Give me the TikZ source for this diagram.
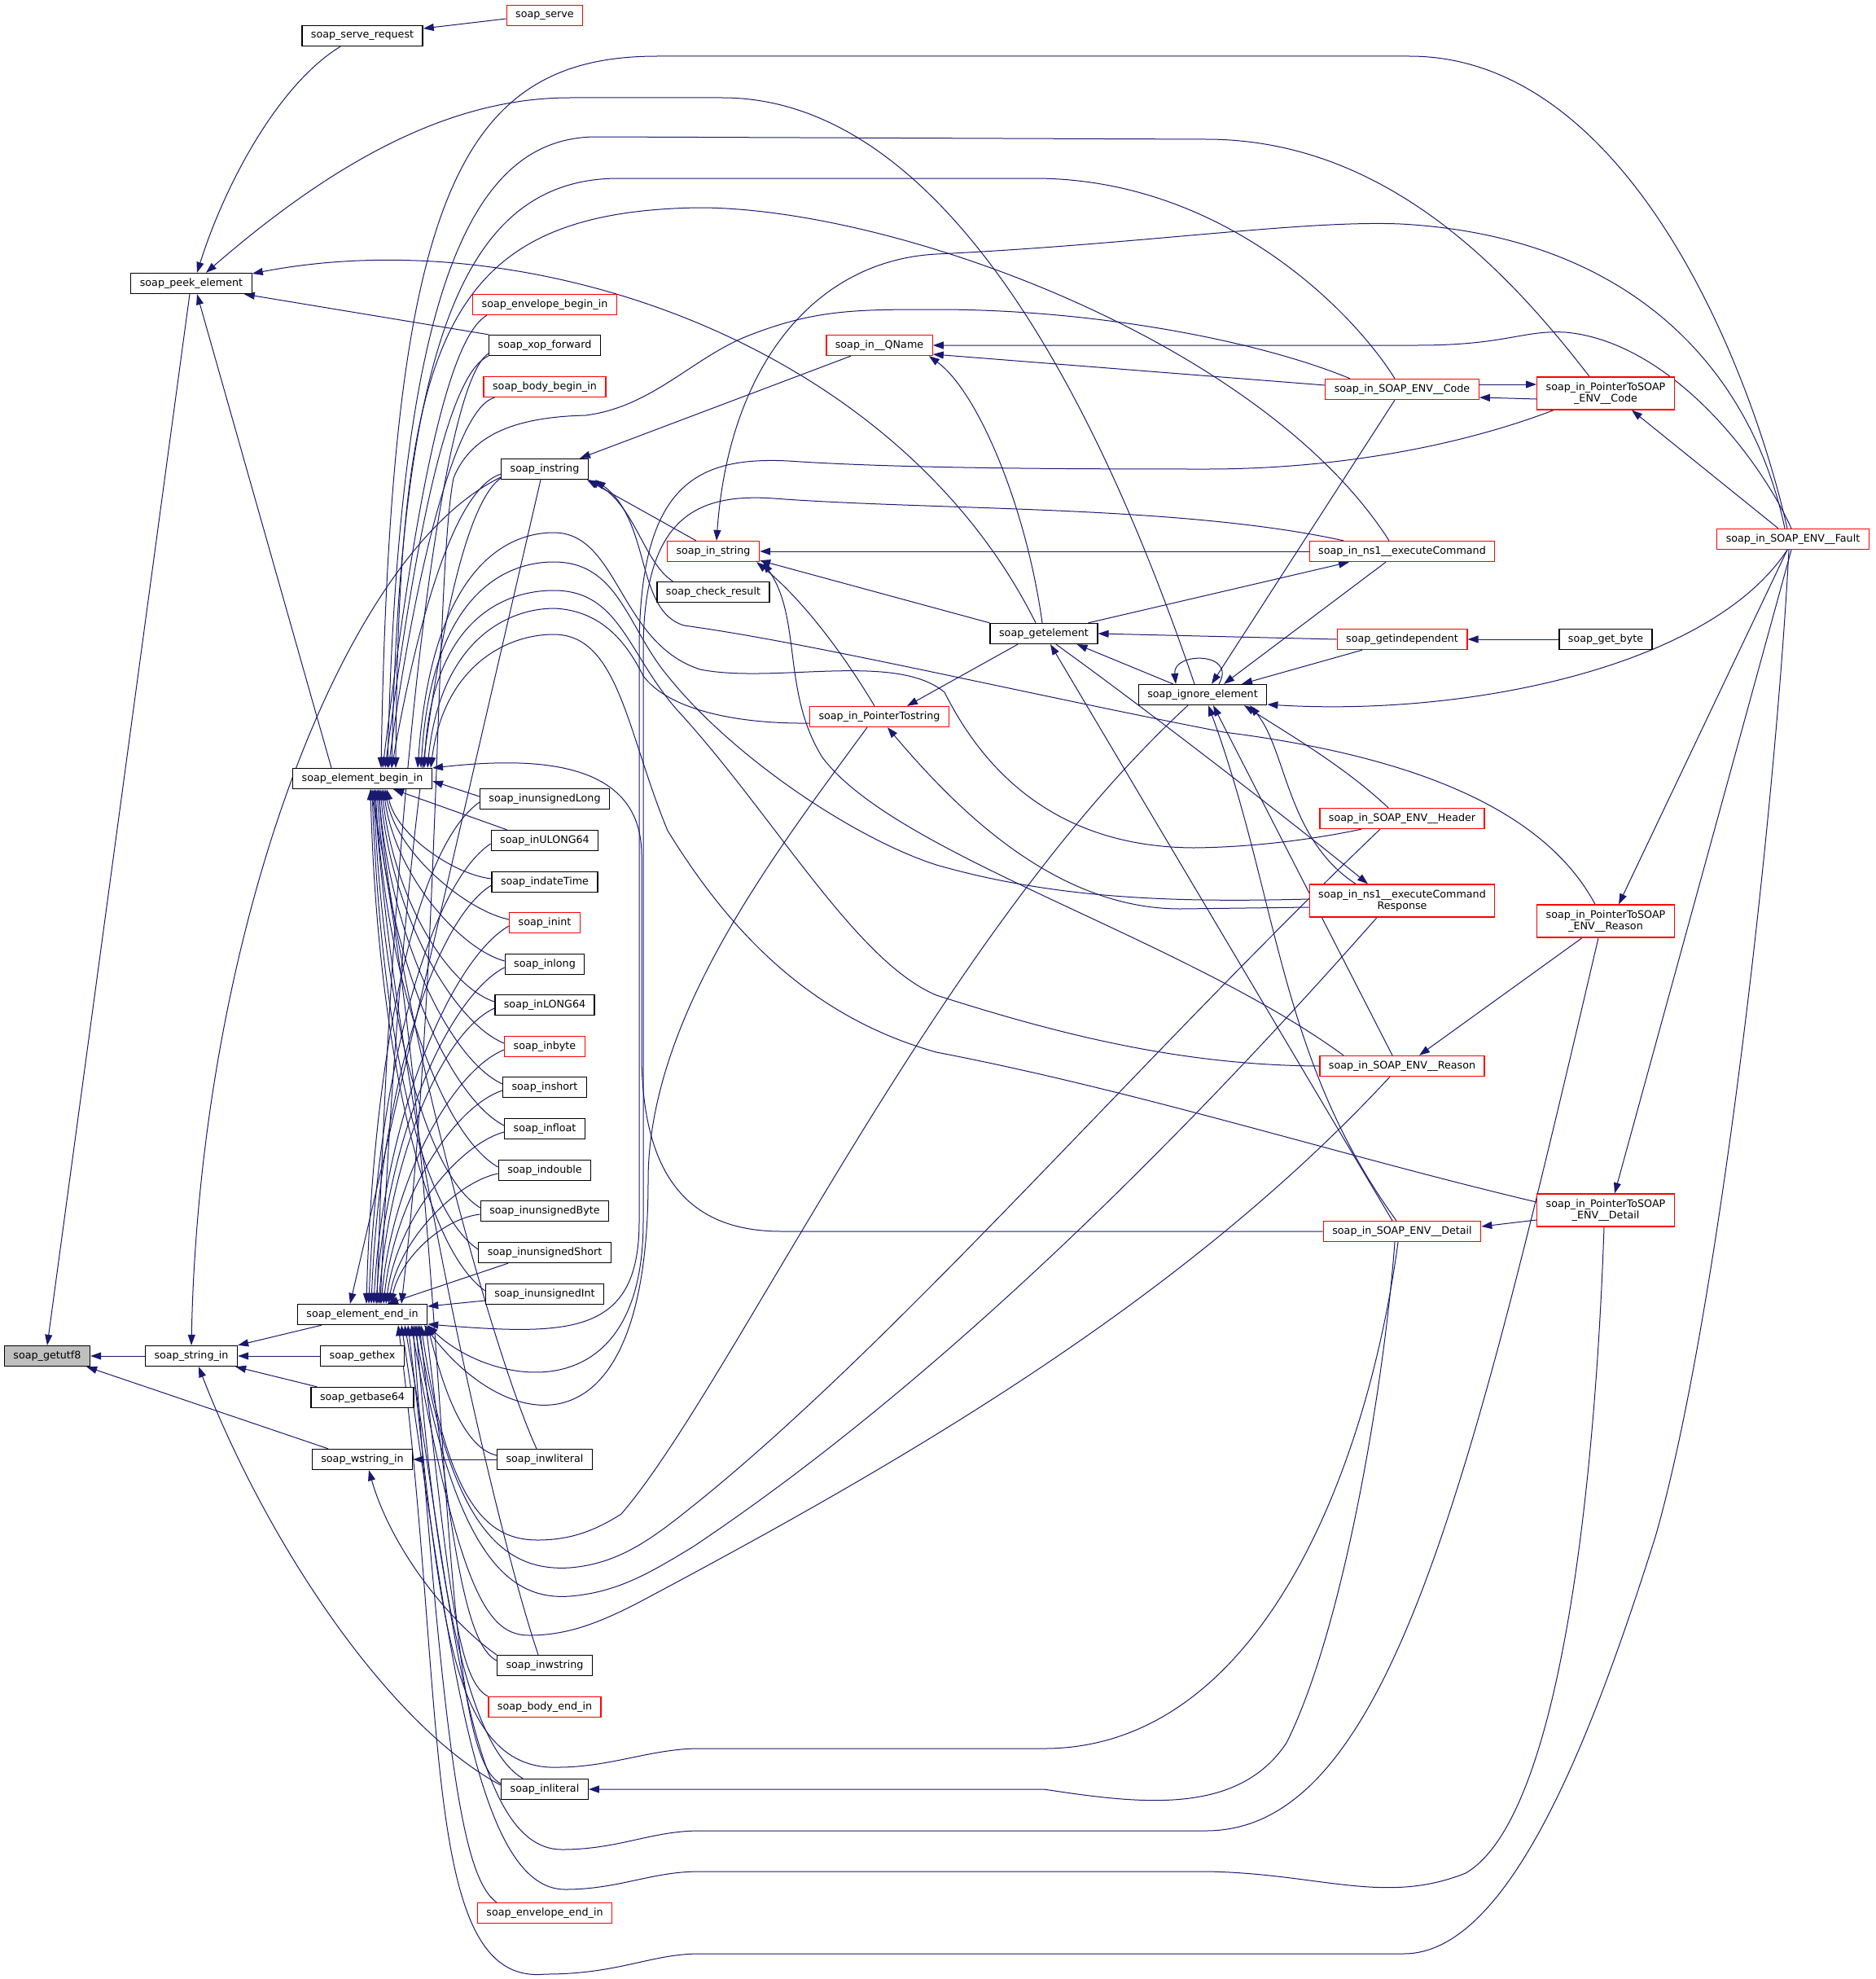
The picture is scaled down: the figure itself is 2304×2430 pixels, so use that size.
\documentclass[tikz,border=0pt]{standalone}
\usepackage{fontspec}
\setsansfont{DejaVu Sans}
\usetikzlibrary{arrows.meta,backgrounds}
\definecolor{edgecol}{HTML}{191970}
\definecolor{curfill}{HTML}{BFBFBF}
\tikzset{
  fn/.style={draw=black,line width=1.3pt,fill=white,inner xsep=11pt,inner ysep=3pt,
    minimum height=25pt,font=\sffamily\fontsize{12.7}{13.5}\selectfont},
  fnred/.style={fn,draw=red},
  fncur/.style={fn,fill=curfill},
  two/.style={align=center,minimum height=40pt},
  call/.style={draw=edgecol,line width=1pt,{Triangle[length=13pt,width=9pt]}-}
}
\begin{document}
\begin{tikzpicture}[x=1pt,y=-1pt]
\useasboundingbox (0,0) rectangle (2304,2430);
\node[fncur] (utf8) at (58,1665) {soap\_getutf8};
\node[fn] (strin) at (235,1665) {soap\_string\_in};
\node[fn] (peek) at (235,348) {soap\_peek\_element};
\node[fn] (sreq) at (445,44) {soap\_serve\_request};
\node[fnred] (serve) at (669,19) {soap\_serve};
\node[fn] (ebegin) at (445,956) {soap\_element\_begin\_in};
\node[fn] (eend) at (445,1614) {soap\_element\_end\_in};
\node[fn] (hex) at (445,1665) {soap\_gethex};
\node[fn] (b64) at (445,1716) {soap\_getbase64};
\node[fn] (wstrin) at (445,1792) {soap\_wstring\_in};
\node[fnred] (envb) at (669,374) {soap\_envelope\_begin\_in};
\node[fn] (xop) at (669,424) {soap\_xop\_forward};
\node[fnred] (bodyb) at (669,475) {soap\_body\_begin\_in};
\node[fn] (instr) at (669,576) {soap\_instring};
\node[fn] (ulong) at (669,981) {soap\_inunsignedLong};
\node[fn] (ul64) at (669,1032) {soap\_inULONG64};
\node[fn] (dtime) at (669,1083) {soap\_indateTime};
\node[fnred] (iint) at (669,1133) {soap\_inint};
\node[fn] (ilong) at (669,1184) {soap\_inlong};
\node[fn] (il64) at (669,1234) {soap\_inLONG64};
\node[fnred] (ibyte) at (669,1285) {soap\_inbyte};
\node[fn] (ishort) at (669,1335) {soap\_inshort};
\node[fn] (ifloat) at (669,1386) {soap\_infloat};
\node[fn] (idouble) at (669,1437) {soap\_indouble};
\node[fn] (ubyte) at (669,1487) {soap\_inunsignedByte};
\node[fn] (ushort) at (669,1538) {soap\_inunsignedShort};
\node[fn] (uint) at (669,1589) {soap\_inunsignedInt};
\node[fn] (iwlit) at (669,1792) {soap\_inwliteral};
\node[fn] (iwstr) at (669,2045) {soap\_inwstring};
\node[fnred] (bodye) at (669,2096) {soap\_body\_end\_in};
\node[fn] (ilit) at (669,2197) {soap\_inliteral};
\node[fnred] (enve) at (669,2349) {soap\_envelope\_end\_in};
\node[fnred] (qname) at (1080,424) {soap\_in\_\_QName};
\node[fnred] (sinstr) at (876,677) {soap\_in\_string};
\node[fn] (chk) at (876,727) {soap\_check\_result};
\node[fnred] (pstr) at (1080,880) {soap\_in\_PointerTostring};
\node[fn] (getel) at (1282,778) {soap\_getelement};
\node[fn] (ignore) at (1477,853) {soap\_ignore\_element};
\node[fnred] (code) at (1722,478) {soap\_in\_SOAP\_ENV\_\_Code};
\node[fnred,two] (pcode) at (1972,483) {soap\_in\_PointerToSOAP\\\_ENV\_\_Code};
\node[fnred] (fault) at (2202,662) {soap\_in\_SOAP\_ENV\_\_Fault};
\node[fnred] (exec) at (1722,677) {soap\_in\_ns1\_\_executeCommand};
\node[fnred] (getind) at (1722,785) {soap\_getindependent};
\node[fn] (getbyte) at (1972,785) {soap\_get\_byte};
\node[fnred] (header) at (1722,1005) {soap\_in\_SOAP\_ENV\_\_Header};
\node[fnred,two] (resp) at (1722,1106) {soap\_in\_ns1\_\_executeCommand\\Response};
\node[fnred] (reason) at (1722,1309) {soap\_in\_SOAP\_ENV\_\_Reason};
\node[fnred] (detail) at (1722,1512) {soap\_in\_SOAP\_ENV\_\_Detail};
\node[fnred,two] (preason) at (1972,1131) {soap\_in\_PointerToSOAP\\\_ENV\_\_Reason};
\node[fnred,two] (pdetail) at (1972,1486) {soap\_in\_PointerToSOAP\\\_ENV\_\_Detail};
\begin{scope}[on background layer]
\draw[call] (utf8.east) -- (strin.west);
\draw[call] (utf8.north) -- ([xshift=-2pt]peek.south);
\draw[call] ([xshift=-5pt]utf8.south east) -- ([xshift=-42pt]wstrin.north);
\draw[call] ([xshift=7pt]peek.north) .. controls (275,230) and (340,105) .. ([xshift=-27pt]sreq.south);
\draw[call] ([yshift=9pt]sreq.east) -- ([yshift=-4pt]serve.west);
\draw[call] ([xshift=7pt]peek.south) -- ([xshift=-38pt]ebegin.north);
\draw[call] ([xshift=-10pt]peek.south east) -- (xop.north west);
\draw[call] ([yshift=12pt]peek.east) .. controls (650,270) and (1100,420) .. ([xshift=-10pt]getel.north);
\draw[call] ([xshift=18pt]peek.north) .. controls (420,190) and (560,120) .. (700,120) -- (887,120)
  .. controls (1100,120) and (1300,350) .. ([xshift=-10pt]ignore.north);
\draw[call] (strin.north east) -- ([xshift=-50pt]eend.south);
\draw[call] (strin.east) -- (hex.west);
\draw[call] ([xshift=-3pt]strin.south east) -- ([xshift=8pt]b64.north west);
\draw[call] (strin.north) .. controls (245,1150) and (420,680) .. ([yshift=-10pt]instr.west);
\draw[call] ([xshift=9pt]strin.south) .. controls (330,1900) and (480,2120) .. ([yshift=5pt]ilit.west);
\draw[call] (wstrin.east) -- (iwlit.west);
\draw[call] ([xshift=8pt]wstrin.south) .. controls (480,1900) and (550,1990) .. (iwstr.north west);
\draw[call] ([xshift=25pt]ebegin.north) .. controls (500,700) and (540,420) .. ([xshift=18pt]envb.south west);
\draw[call] ([xshift=28pt]ebegin.north) .. controls (505,700) and (545,460) .. (xop.south west);
\draw[call] ([xshift=32pt]ebegin.north) .. controls (510,700) and (560,500) .. ([xshift=14pt]bodyb.south west);
\draw[call] ([xshift=36pt]ebegin.north) .. controls (515,750) and (560,600) .. ([yshift=-6pt]instr.west);
\draw[call] ([xshift=18pt]eend.north) .. controls (480,1000) and (540,470) .. ([yshift=-10pt]xop.west);
\draw[call] ([xshift=22pt]eend.north) .. controls (490,1100) and (540,640) .. ([yshift=-11pt]instr.west);
\draw[call] ([xshift=-15pt]eend.north) -- ([xshift=-5pt]instr.south);
\draw[call] ([yshift=-3pt]ebegin.east) -- ([yshift=3pt]ulong.west);
\draw[call] ([xshift=38pt]ebegin.south) -- ([xshift=20pt]ul64.north west);
\draw[call] ([xshift=30pt]ebegin.south) .. controls +(12,57) and +(-45,-5) .. ([yshift=4pt]dtime.west);
\draw[call] ([xshift=28pt]ebegin.south) .. controls +(14,80) and +(-50,-10) .. ([yshift=4pt]iint.west);
\draw[call] ([xshift=26pt]ebegin.south) .. controls +(14,105) and +(-55,-15) .. ([yshift=4pt]ilong.west);
\draw[call] ([xshift=24pt]ebegin.south) .. controls +(14,130) and +(-60,-20) .. ([yshift=4pt]il64.west);
\draw[call] ([xshift=22pt]ebegin.south) .. controls +(14,155) and +(-62,-25) .. ([yshift=4pt]ibyte.west);
\draw[call] ([xshift=20pt]ebegin.south) .. controls +(14,180) and +(-65,-30) .. ([yshift=4pt]ishort.west);
\draw[call] ([xshift=18pt]ebegin.south) .. controls +(12,205) and +(-68,-35) .. ([yshift=4pt]ifloat.west);
\draw[call] ([xshift=16pt]ebegin.south) .. controls +(12,230) and +(-70,-40) .. ([yshift=4pt]idouble.west);
\draw[call] ([xshift=14pt]ebegin.south) .. controls +(10,255) and +(-72,-45) .. ([yshift=4pt]ubyte.west);
\draw[call] ([xshift=12pt]ebegin.south) .. controls +(10,280) and +(-75,-50) .. ([yshift=4pt]ushort.west);
\draw[call] ([xshift=10pt]ebegin.south) .. controls +(8,305) and +(-78,-55) .. ([yshift=4pt]uint.west);
\draw[call] ([xshift=5pt]eend.north) .. controls +(8,-305) and +(-78,55) .. ([yshift=-4pt]ulong.west);
\draw[call] ([xshift=8pt]eend.north) .. controls +(10,-280) and +(-75,50) .. ([yshift=-4pt]ul64.west);
\draw[call] ([xshift=11pt]eend.north) .. controls +(10,-255) and +(-72,45) .. ([yshift=-4pt]dtime.west);
\draw[call] ([xshift=14pt]eend.north) .. controls +(12,-230) and +(-70,40) .. ([yshift=-4pt]iint.west);
\draw[call] ([xshift=17pt]eend.north) .. controls +(12,-205) and +(-68,35) .. ([yshift=-4pt]ilong.west);
\draw[call] ([xshift=20pt]eend.north) .. controls +(14,-180) and +(-65,30) .. ([yshift=-4pt]il64.west);
\draw[call] ([xshift=23pt]eend.north) .. controls +(14,-155) and +(-62,25) .. ([yshift=-4pt]ibyte.west);
\draw[call] ([xshift=26pt]eend.north) .. controls +(14,-130) and +(-60,20) .. ([yshift=-4pt]ishort.west);
\draw[call] ([xshift=29pt]eend.north) .. controls +(14,-105) and +(-55,15) .. ([yshift=-4pt]ifloat.west);
\draw[call] ([xshift=32pt]eend.north) .. controls +(14,-80) and +(-50,10) .. ([yshift=-4pt]idouble.west);
\draw[call] ([xshift=35pt]eend.north) .. controls +(12,-57) and +(-45,5) .. ([yshift=-4pt]ubyte.west);
\draw[call] ([xshift=31pt]eend.north) -- ([xshift=37pt]ushort.south west);
\draw[call] ([yshift=10pt]eend.east) -- ([yshift=-8pt]uint.west);
\draw[call] ([xshift=20pt]ebegin.south) .. controls (480,1200) and (600,1650) .. ([xshift=-10pt]iwlit.north);
\draw[call] ([xshift=80pt]eend.south) .. controls +(15,60) and +(-45,-10) .. ([yshift=5pt]iwlit.west);
\draw[call] ([xshift=15pt]ebegin.south) .. controls (480,1300) and (600,1850) .. ([xshift=-8pt]iwstr.north);
\draw[call] ([xshift=78pt]eend.south) .. controls +(30,250) and +(-40,-20) .. ([yshift=6pt]iwstr.west);
\draw[call] ([xshift=70pt]eend.south) .. controls +(35,300) and +(-40,-20) .. (bodye.north west);
\draw[call] ([xshift=66pt]eend.south) .. controls +(30,400) and +(-50,-30) .. ([xshift=27pt]ilit.north west);
\draw[call] ([xshift=10pt]ebegin.south) .. controls (560,1500) and (530,2150) .. ([yshift=7pt]ilit.west);
\draw[call] ([xshift=62pt]eend.south) .. controls +(40,550) and +(-40,-30) .. ([xshift=24pt]enve.north west);
\draw[call] ([xshift=23pt]ebegin.north) .. controls (480,250) and (560,69) .. (807,69) -- (1731,69)
  .. controls (2000,69) and (2150,450) .. ([xshift=-7pt]fault.north);
\draw[call] ([xshift=31pt]ebegin.north) .. controls (490,350) and (580,168) .. (733,168) -- (1481,171)
  .. controls (1700,171) and (1850,330) .. ([xshift=-20pt]pcode.north);
\draw[call] ([xshift=36pt]ebegin.north) .. controls (492,420) and (570,219) .. (760,219) -- (1270,219)
  .. controls (1500,219) and (1660,380) .. ([xshift=-9pt]code.north);
\draw[call] ([xshift=41pt]ebegin.north) .. controls (490,420) and (540,260) .. (858,255)
  .. controls (1100,255) and (1550,420) .. ([xshift=-16pt]exec.north);
\draw[call] ([xshift=48pt]eend.north) .. controls (540,1200) and (535,700) .. (557,587)
  .. controls (580,530) and (640,512) .. (719,510) .. controls (800,500) and (850,440) .. (917,413)
  .. controls (1000,380) and (1050,380) .. (1150,380) .. controls (1350,380) and (1550,420) .. ([xshift=-64pt]code.north);
\draw[call] ([yshift=-12pt]eend.east) .. controls (700,1640) and (785,1640) .. (785,1500) -- (785,800)
  .. controls (785,600) and (850,560) .. (968,566) .. controls (1100,575) and (1300,576) .. (1481,576)
  .. controls (1650,576) and (1800,545) .. ([xshift=-64pt]pcode.south);
\draw[call] ([xshift=80pt]eend.south) .. controls (600,1700) and (790,1740) .. (790,1500) -- (790,800)
  .. controls (790,640) and (850,605) .. (950,612) .. controls (1150,627) and (1450,620) .. ([xshift=-72pt]exec.north);
\draw[call] ([xshift=76pt]eend.south) .. controls (620,1760) and (796,1800) .. (796,1450)
  .. controls (796,1250) and (950,1050) .. ([xshift=-15pt]pstr.south);
\draw[call] ([yshift=13pt]ebegin.east) .. controls (650,930) and (788,930) .. (788,1050) -- (788,1300)
  .. controls (790,1450) and (850,1512) .. (960,1512) -- (detail.west);
\draw[call] ([xshift=-18pt]ebegin.north east) .. controls (530,700) and (620,654) .. (680,654)
  .. controls (760,654) and (760,790) .. (860,822) .. controls (950,840) and (1100,800) .. (1160,850)
  .. controls (1210,950) and (1300,1040) .. (1466,1041) .. controls (1560,1040) and (1640,1025) .. ([xshift=-50pt]header.south);
\draw[call] ([xshift=-14pt]ebegin.north east) .. controls (530,730) and (620,690) .. (680,690)
  .. controls (760,690) and (770,770) .. (820,830) .. controls (900,930) and (1050,1030) .. (1150,1062)
  .. controls (1300,1105) and (1450,1108) .. ([yshift=2pt]resp.west);
\draw[call] ([xshift=-10pt]ebegin.north east) .. controls (530,760) and (620,725) .. (680,725)
  .. controls (760,725) and (770,800) .. (830,870) .. controls (950,1000) and (1050,1180) .. (1150,1222)
  .. controls (1300,1270) and (1450,1308) .. (reason.west);
\draw[call] ([xshift=-6pt]ebegin.north east) .. controls (540,790) and (620,747) .. (681,747)
  .. controls (740,750) and (770,790) .. (790,830) .. controls (820,870) and (900,889) .. ([yshift=-8pt]pstr.west);
\draw[call] ([xshift=-2pt]ebegin.north east) .. controls (545,820) and (620,779) .. (680,779)
  .. controls (760,779) and (770,900) .. (820,1020) .. controls (900,1150) and (1000,1250) .. (1150,1292)
  .. controls (1400,1340) and (1650,1420) .. ([yshift=10pt]pdetail.west);
\draw[call] ([xshift=72pt]eend.south) .. controls (550,1850) and (600,1891) .. (660,1891)
  .. controls (700,1891) and (730,1880) .. (763,1859) .. controls (900,1700) and (1150,1150) .. ([xshift=-18pt]ignore.south);
\draw[call] ([xshift=68pt]eend.south) .. controls (555,1880) and (620,1930) .. (700,1925)
  .. controls (760,1920) and (800,1890) .. (850,1850) .. controls (1100,1650) and (1400,1300) .. ([xshift=-27pt]header.south);
\draw[call] ([xshift=64pt]eend.south) .. controls (560,1920) and (630,1965) .. (700,1960)
  .. controls (760,1955) and (800,1930) .. (850,1900) .. controls (1150,1700) and (1450,1400) .. ([xshift=-31pt]resp.south);
\draw[call] ([xshift=60pt]eend.south) .. controls (565,1960) and (600,2008) .. (650,2008)
  .. controls (700,2008) and (740,1990) .. (780,1970) .. controls (1100,1800) and (1450,1600) .. ([xshift=-15pt]reason.south);
\draw[call] ([xshift=56pt]eend.south) .. controls (540,1950) and (545,2175) .. (685,2170)
  .. controls (750,2170) and (800,2147) .. (859,2147) -- (1282,2147)
  .. controls (1550,2147) and (1680,1800) .. ([xshift=-5pt]detail.south);
\draw[call] ([xshift=52pt]eend.south) .. controls (555,1950) and (570,2271) .. (690,2271)
  .. controls (760,2271) and (800,2248) .. (859,2248) -- (1481,2248)
  .. controls (1700,2248) and (1800,1850) .. ([xshift=-9pt]preason.south);
\draw[call] ([xshift=48pt]eend.south) .. controls (550,2000) and (580,2320) .. (694,2320)
  .. controls (760,2320) and (800,2298) .. (859,2298) -- (1481,2298)
  .. controls (1620,2300) and (1700,2340) .. (1800,2300) .. controls (1920,2230) and (1960,1800) .. ([xshift=-2pt]pdetail.south);
\draw[call] ([xshift=44pt]eend.south) .. controls (550,2100) and (515,2440) .. (670,2424)
  .. controls (760,2424) and (800,2399) .. (859,2399) -- (1724,2399)
  .. controls (1850,2399) and (1950,2150) .. (2033,1887) .. controls (2110,1620) and (2180,1000) .. ([xshift=-5pt]fault.south);
\draw[call] (ilit.east) -- (1282,2197) .. controls (1400,2215) and (1520,2230) .. (1580,2140)
  .. controls (1650,2000) and (1700,1700) .. ([xshift=-9pt]detail.south);
\draw[call] ([yshift=-11pt]qname.east) -- ([yshift=5pt]code.west);
\draw[call] (qname.east) -- (1740,424) .. controls (1850,424) and (1870,405) .. (1923,408)
  .. controls (2050,420) and (2160,560) .. ([xshift=-2pt]fault.north);
\draw[call] ([xshift=-5pt]qname.south east) .. controls (1200,480) and (1260,620) .. ([xshift=-2pt]getel.north);
\draw[call] ([yshift=11pt]pcode.west) -- ([yshift=6pt]code.east);
\draw[call] ([yshift=-10pt]code.east) -- ([yshift=-7pt]pcode.west);
\draw[call] ([xshift=32pt]pcode.south) -- ([xshift=-18pt]fault.north);
\draw[call] ([xshift=43pt]instr.north) -- ([xshift=-35pt]qname.south);
\draw[call] ([xshift=-2pt]instr.south east) -- ([xshift=36pt]sinstr.north west);
\draw[call] (instr.south east) .. controls (780,620) and (790,690) .. ([xshift=20pt]chk.north west);
\draw[call] ([xshift=8pt]instr.south east) .. controls (800,640) and (780,750) .. (840,768)
  .. controls (1000,790) and (1250,850) .. (1503,899) .. controls (1750,930) and (1900,1000) .. ([xshift=-13pt]preason.north);
\draw[call] ([xshift=4pt]sinstr.north) .. controls (895,450) and (1000,320) .. (1150,312)
  .. controls (1400,300) and (1600,270) .. (1720,275) .. controls (2000,290) and (2150,450) .. ([xshift=-10pt]fault.north);
\draw[call] (sinstr.east) -- (exec.west);
\draw[call] ([yshift=2pt]sinstr.south east) -- (getel.north west);
\draw[call] ([xshift=-4pt]sinstr.south east) .. controls (990,740) and (1040,810) .. ([xshift=-6pt]pstr.north);
\draw[call] ([xshift=4pt]sinstr.south east) .. controls (985,760) and (960,850) .. (1010,930)
  .. controls (1100,1050) and (1450,1150) .. ([xshift=-72pt]reason.north);
\draw[call] ([xshift=34pt]pstr.north) -- ([xshift=-32pt]getel.south);
\draw[call] ([xshift=10pt]pstr.south) .. controls (1180,1000) and (1300,1116) .. (1450,1116) -- ([yshift=-8pt]resp.west);
\draw[call] (getel.east) -- (getind.west);
\draw[call] (getind.east) -- (getbyte.west);
\draw[call] ([xshift=-26pt]getel.south east) -- ([xshift=43pt]ignore.north west);
\draw[call] ([xshift=-33pt]ignore.north) .. controls (1440,800) and (1520,800) .. ([xshift=20pt]ignore.north);
\draw[call] ([xshift=48pt]ignore.north) -- ([xshift=-49pt]getind.south);
\draw[call] ([yshift=-12pt]ignore.east) .. controls (1800,880) and (2100,820) .. ([xshift=-7pt]fault.south);
\draw[call] ([xshift=11pt]ignore.north) -- ([xshift=-9pt]code.south);
\draw[call] ([xshift=26pt]ignore.north) -- ([xshift=-20pt]exec.south);
\draw[call] ([xshift=51pt]ignore.south) .. controls (1580,900) and (1650,940) .. ([xshift=-17pt]header.north);
\draw[call] ([xshift=58pt]ignore.south) .. controls (1580,920) and (1580,1030) .. ([xshift=-57pt]resp.north);
\draw[call] ([xshift=13pt]ignore.south) -- ([xshift=-12pt]reason.north);
\draw[call] ([xshift=7pt]ignore.south) .. controls (1570,1100) and (1570,1300) .. ([xshift=-7pt]detail.north);
\draw[call] ([xshift=8pt]getel.south) -- ([xshift=-12pt]detail.north);
\draw[call] ([xshift=-42pt]resp.north) .. controls (1600,1020) and (1420,880) .. ([xshift=15pt]getel.south);
\draw[call] ([xshift=-65pt]exec.south) -- ([xshift=-12pt]getel.north east);
\draw[call] ([xshift=21pt]reason.north) -- ([xshift=-29pt]preason.south);
\draw[call] ([xshift=16pt]preason.north) -- ([xshift=-7pt]fault.south);
\draw[call] ([xshift=11pt]pdetail.north) -- ([xshift=-2pt]fault.south);
\draw[call] ([yshift=6pt]detail.east) -- ([yshift=-12pt]pdetail.west);
\end{scope}
\end{tikzpicture}
\end{document}
